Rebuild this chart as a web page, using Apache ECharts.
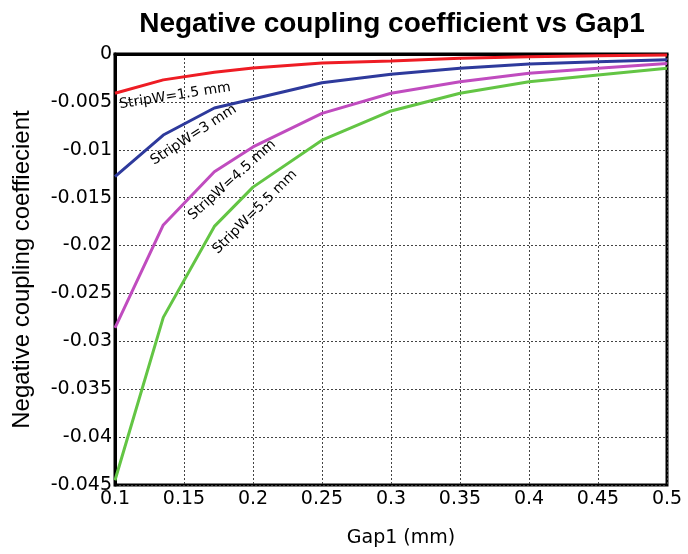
<!DOCTYPE html>
<html>
<head>
<meta charset="utf-8">
<script src="https://cdn.jsdelivr.net/npm/echarts@6/dist/echarts.min.js"></script>
<style>
  html, body { margin: 0; padding: 0; background: #fff; }
  #chart { width: 688px; height: 554px; }
</style>
</head>
<body>
<div id="chart"></div>
<script>
// gap values (mm)
const gap = [0.1, 0.135, 0.172, 0.2, 0.25, 0.3, 0.35, 0.4, 0.45, 0.5];

// coupling coefficient per strip width
const strip15 = [-0.0041, -0.0027, -0.0019, -0.00146, -0.00094, -0.00073, -0.00045, -0.00028, -0.00018, -0.0001];
const strip3 = [-0.0128, -0.00846, -0.00564, -0.0047, -0.003, -0.00212, -0.0015, -0.00104, -0.0008, -0.0006];
const strip45 = [-0.0286, -0.01785, -0.0123, -0.0097, -0.0062, -0.0041, -0.0029, -0.002, -0.0015, -0.001];
const strip55 = [-0.0445, -0.0275, -0.018, -0.0139, -0.009, -0.00595, -0.0041, -0.0029, -0.0022, -0.0015];

const names = ['StripW=1.5 mm', 'StripW=3 mm', 'StripW=4.5 mm', 'StripW=5.5 mm'];
const colors = ['#ee1c24', '#2e3a9c', '#c04cbf', '#63c544'];

// where the curve labels sit (data units) and their tilt
const labelAt = [[0.1435, -0.00438], [0.157, -0.00846], [0.1848, -0.01315], [0.2014, -0.0165]];
const labelTilt = [9, 33, 42, 45];

const chart = echarts.init(document.getElementById('chart'));

const font = 'Verdana, "DejaVu Sans", sans-serif';
const arial = '"Liberation Sans", Arial, sans-serif';
const dotted = { show: true, lineStyle: { color: '#444', type: [2, 2], width: 1 } };

function pairs(ys) {
  return gap.map((g, i) => [g, ys[i]]);
}

chart.setOption({
  animation: false,
  title: {
    text: 'Negative coupling coefficient vs Gap1',
    left: 387, top: 5, textAlign: 'center',
    textStyle: { fontFamily: arial, fontSize: 28, fontWeight: 'bold', color: '#000' }
  },
  grid: { left: 115, right: 21, top: 54, bottom: 69, show: true, borderColor: '#000', borderWidth: 3 },
  xAxis: {
    type: 'value', min: 0.1, max: 0.5, interval: 0.05,
    name: 'Gap1 (mm)', nameLocation: 'middle', nameGap: 44,
    nameTextStyle: { fontFamily: font, fontSize: 19, color: '#000', padding: [0, 0, 0, 20] },
    axisLine: { lineStyle: { color: '#000', width: 3 } },
    axisTick: { show: false },
    axisLabel: { fontFamily: font, fontSize: 19, color: '#000', margin: 5 },
    splitLine: dotted
  },
  yAxis: {
    type: 'value', min: -0.045, max: 0, interval: 0.005,
    name: 'Negative coupling coeffiecient', nameLocation: 'middle', nameGap: 81,
    nameTextStyle: { fontFamily: arial, fontSize: 24, color: '#000' },
    axisLine: { lineStyle: { color: '#000', width: 3 } },
    axisTick: { show: false },
    axisLabel: { fontFamily: font, fontSize: 19, color: '#000', margin: 3 },
    splitLine: dotted
  },
  series: [strip15, strip3, strip45, strip55].map((ys, i) => ({
    type: 'line', name: names[i], data: pairs(ys),
    showSymbol: false, smooth: false,
    lineStyle: { color: colors[i], width: 3 },
    itemStyle: { color: colors[i] }
  }))
});

// curve labels placed through the chart's own scale
chart.setOption({
  graphic: labelAt.map((p, i) => {
    const px = chart.convertToPixel({ gridIndex: 0 }, p);
    return {
      type: 'text', x: px[0], y: px[1],
      rotation: labelTilt[i] * Math.PI / 180,
      style: {
        text: names[i], fill: '#000', font: '14px ' + font,
        align: 'center', verticalAlign: 'middle'
      },
      z: 100
    };
  })
});
</script>
</body>
</html>
